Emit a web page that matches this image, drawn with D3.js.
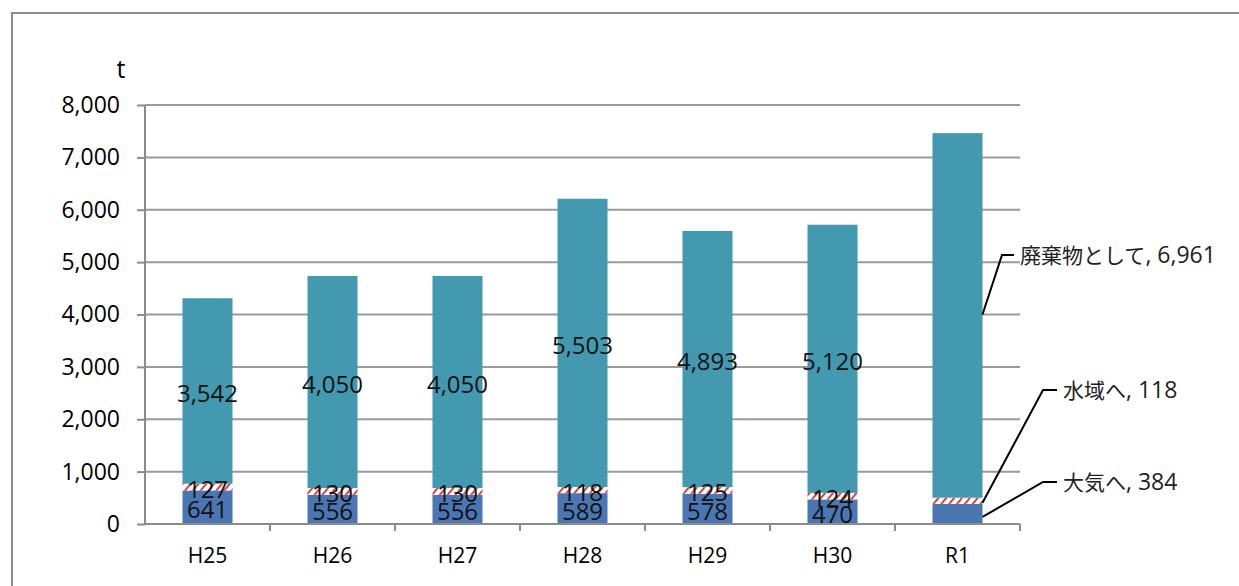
<!DOCTYPE html>
<html><head><meta charset="utf-8">
<script src="https://cdn.jsdelivr.net/npm/d3@7"></script>
<style>body{margin:0;background:#fff}svg{display:block}</style>
</head><body><svg id="c" width="1239" height="586"></svg>
<script>
const categories = ["H25","H26","H27","H28","H29","H30","R1"];
const air   = [641,556,556,589,578,470,384];
const water = [127,130,130,118,125,124,118];
const waste = [3542,4050,4050,5503,4893,5120,6961];
const yTicks = [0,1000,2000,3000,4000,5000,6000,7000,8000];
const seriesNames = ["大気へ","水域へ","廃棄物として"];

const svg = d3.select("#c");
const numFont = "'Open Sans',sans-serif";
const jpFont = "'Noto Sans CJK JP',sans-serif";

const defs = svg.append("defs");
const pat = defs.append("pattern").attr("id","hatch").attr("patternUnits","userSpaceOnUse")
  .attr("width",6).attr("height",6).attr("patternTransform","rotate(40)");
pat.append("rect").attr("width",6).attr("height",6).attr("fill","#fff");
pat.append("rect").attr("width",2).attr("height",6).attr("fill","#e0413c");

svg.append("rect").attr("x",12).attr("y",13).attr("width",1240).attr("height",590)
  .attr("fill","none").attr("stroke","#8c8c8c").attr("stroke-width",2);

const x = d3.scaleBand().domain(categories).range([145,1020]).paddingInner(0.6).paddingOuter(0.3);
const xb = d3.scaleBand().domain(categories).range([145,1020]);
const y = d3.scaleLinear().domain([0,8000]).range([524,105]);

svg.append("g").selectAll("line").data(yTicks.slice(1)).join("line")
  .attr("x1",145).attr("x2",1020).attr("y1",d=>y(d)).attr("y2",d=>y(d))
  .attr("stroke","#9a9a9a").attr("stroke-width",2);

const stackData = categories.map((c,i)=>({c, a:air[i], w:water[i], s:waste[i]}));
const stack = d3.stack().keys(["a","w","s"])(stackData);
const fills = ["#4a76b4","url(#hatch)","#4399b0"];

stack.forEach((layer,li)=>{
  svg.append("g").selectAll("rect").data(layer).join("rect")
    .attr("x",d=>x(d.data.c)).attr("width",x.bandwidth())
    .attr("y",d=>y(d[1])).attr("height",d=>y(d[0])-y(d[1]))
    .attr("fill",fills[li]);
});

const yAxis = d3.axisLeft(y).tickValues(yTicks).tickSize(8).tickPadding(17).tickFormat(d3.format(","));
const gy = svg.append("g").attr("transform","translate(145,0)").call(yAxis);
gy.select(".domain").attr("stroke","#8c8c8c").attr("stroke-width",2).attr("d","M0,105V524");
gy.selectAll(".tick line").attr("stroke","#8c8c8c").attr("stroke-width",2);
gy.selectAll("text").attr("font-family",numFont).attr("font-size",23).attr("fill","#000");

const xAxis = d3.axisBottom(xb).tickSize(0).tickPadding(24);
const gx = svg.append("g").attr("transform","translate(0,524)").call(xAxis);
gx.select(".domain").attr("stroke","#8c8c8c").attr("stroke-width",2).attr("d","M145,0H1020");
gx.selectAll("text").attr("font-family",numFont).attr("font-size",21).attr("fill","#000");
svg.append("g").selectAll("line").data(categories).join("line")
  .attr("x1",d=>xb(d)+xb.bandwidth()).attr("x2",d=>xb(d)+xb.bandwidth())
  .attr("y1",524).attr("y2",531).attr("stroke","#8c8c8c").attr("stroke-width",2);

svg.append("text").attr("x",121).attr("y",78).attr("text-anchor","middle")
  .attr("font-family",numFont).attr("font-size",25).text("t");

const fmt = d3.format(",");
stack.forEach(layer=>{
  svg.append("g").selectAll("text").data(layer.filter(d=>d.data.c!=="R1")).join("text")
    .attr("x",d=>x(d.data.c)+x.bandwidth()/2)
    .attr("y",d=>y((d[0]+d[1])/2)+11)
    .attr("text-anchor","middle").attr("font-family",numFont).attr("font-size",24).attr("fill","#111")
    .text(d=>fmt(d[1]-d[0]));
});

const last = categories.length-1;
const bx = x(categories[last])+x.bandwidth();
const callouts = [
  {name:seriesNames[2], v:waste[last], py:y(4000), ty:255, tx:1002, ex:1014},
  {name:seriesNames[1], v:water[last], py:y(air[last]+water[last]/2)+2, ty:390, tx:1043, ex:1057},
  {name:seriesNames[0], v:air[last], py:y(air[last]/2)+3, ty:482, tx:1043, ex:1057}
];
callouts.forEach(c=>{
  svg.append("polyline").attr("points",`${bx},${c.py} ${c.tx},${c.ty} ${c.ex},${c.ty}`)
    .attr("fill","none").attr("stroke","#000").attr("stroke-width",2);
  const t = svg.append("text").attr("x",c.ex+6).attr("y",c.ty+8).attr("fill","#222");
  t.append("tspan").attr("font-family",jpFont).attr("font-size",21).text(c.name);
  t.append("tspan").attr("font-family",numFont).attr("font-size",23).text(`, ${fmt(c.v)}`);
});
</script></body></html>
